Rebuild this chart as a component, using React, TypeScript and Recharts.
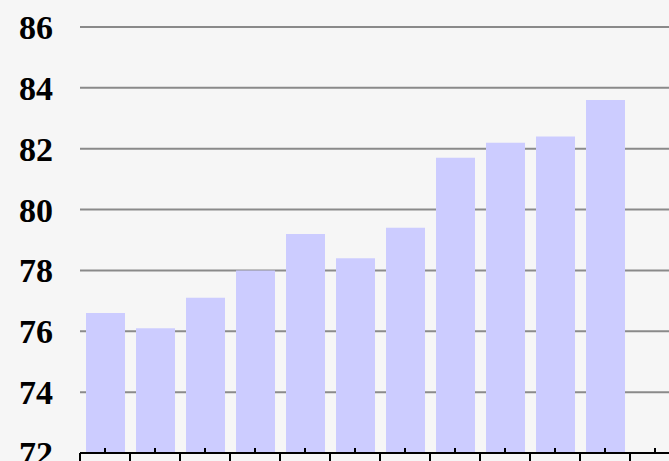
import React from "react";
import { BarChart, Bar, XAxis, YAxis, CartesianGrid } from "recharts";

// categories are not labelled in the picture; the last slot is empty
const categories = ["1", "2", "3", "4", "5", "6", "7", "8", "9", "10", "11", "12"];
const values = [76.6, 76.1, 77.1, 78.0, 79.2, 78.4, 79.4, 81.7, 82.2, 82.4, 83.6, null];
const yTicks = [72, 74, 76, 78, 80, 82, 84, 86];

const data = categories.map((c, i) => ({ name: c, value: values[i] }));

const BAND = 50;

const XTick = (props: any) => {
  const { x, y } = props;
  return (
    <g>
      <line x1={x} y1={y - 5} x2={x} y2={y} stroke="#000" strokeWidth={2} />
      <line x1={x - BAND / 2} y1={y} x2={x - BAND / 2} y2={y + 10} stroke="#000" strokeWidth={2} />
    </g>
  );
};

export default function App() {
  return (
    <div
      style={{
        position: "fixed",
        left: 0,
        top: 0,
        width: 669,
        height: 461,
        overflow: "hidden",
        background: "#f6f6f6",
      }}
    >
      <BarChart
        width={680}
        height={478}
        data={data}
        margin={{ top: 27, right: 0, bottom: 0, left: 0 }}
      >
        <CartesianGrid horizontal={true} vertical={false} stroke="#8a8a8a" strokeWidth={2} />
        <YAxis
          domain={[72, 86]}
          ticks={yTicks}
          width={80}
          axisLine={false}
          tickLine={false}
          tickSize={0}
          tickMargin={27}
          interval={0}
          tick={{
            fill: "#000",
            fontSize: 34,
            fontWeight: "bold",
            fontFamily: "Liberation Serif, serif",
          }}
        />
        <XAxis
          dataKey="name"
          height={25}
          interval={0}
          axisLine={{ stroke: "#000", strokeWidth: 2 }}
          tickLine={false}
          tickSize={0}
          tickMargin={0}
          tick={<XTick />}
        />
        <Bar dataKey="value" fill="#ccccff" barSize={39} isAnimationActive={false} />
      </BarChart>
    </div>
  );
}
